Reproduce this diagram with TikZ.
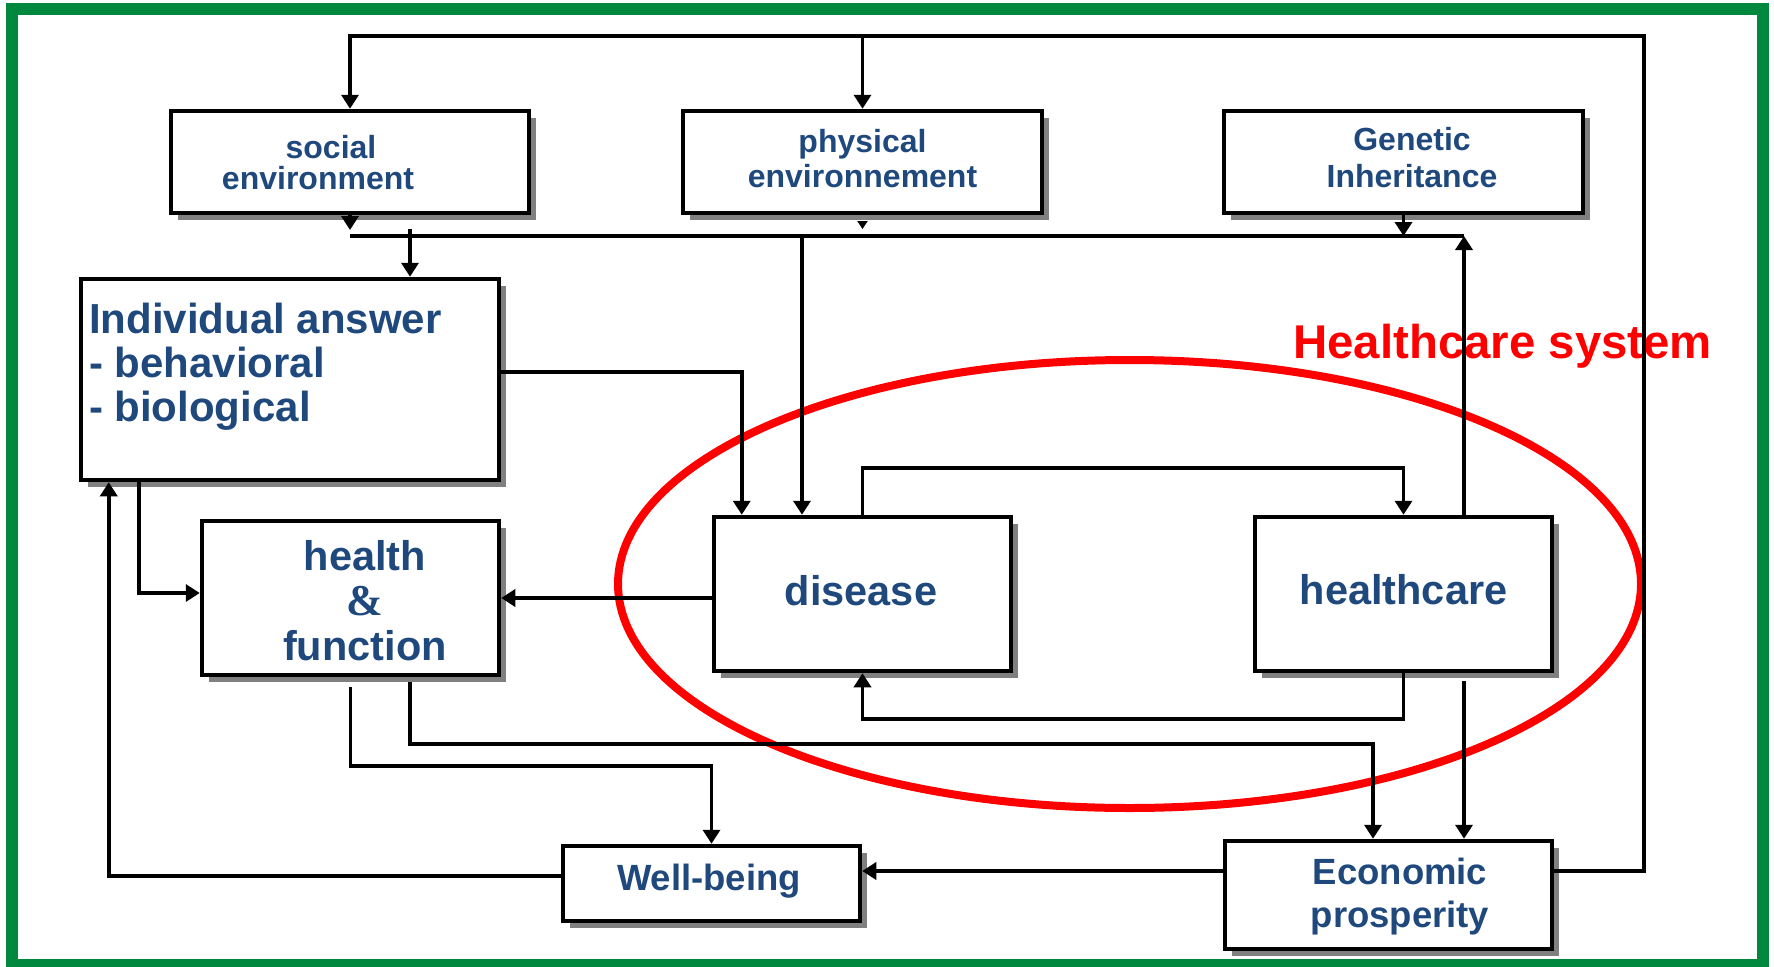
\documentclass[tikz,border=0pt]{standalone}
\usepackage{fontspec}
\setmainfont{Liberation Sans}
\newfontfamily\serifbf{Liberation Serif}[BoldFont={Liberation Serif Bold}]
\usetikzlibrary{arrows.meta,calc,shadows}
\definecolor{frameg}{RGB}{0,136,62}
\definecolor{txtblue}{RGB}{31,73,125}
\definecolor{shadowg}{RGB}{128,128,128}
% #1 size, #2 dx, #3 raise of first baseline, #4 baselineskip, #5 lines
\newcommand\ctext[5]{\smash{\makebox[0pt][l]{\hspace*{#2pt}\makebox[0pt][c]{\raisebox{#3pt}{\fontsize{#1}{#4}\selectfont\vtop{\baselineskip=#4pt\lineskiplimit=-1000pt\lineskip=0pt\halign{\hfil##\hfil\cr#5\crcr}}}}}}}
\newcommand\ltext[5]{\smash{\makebox[0pt][l]{\hspace*{#2pt}\makebox[0pt][l]{\raisebox{#3pt}{\fontsize{#1}{#4}\selectfont\vtop{\baselineskip=#4pt\lineskiplimit=-1000pt\lineskip=0pt\halign{##\hfil\cr#5\crcr}}}}}}}
\newcommand\amp{\serifbf\bfseries\fontsize{44}{45}\selectfont\&}
\begin{document}
\begin{tikzpicture}[x=1pt,y=-1pt,
  conn/.style={line width=3.6pt, line join=miter, line cap=butt},
  arr/.style={conn,-{Triangle[length=14pt,width=17pt]}},
  arrsm/.style={conn,-{Triangle[length=8pt,width=10pt]}},
  box/.style={draw, line width=4.5pt, fill=white, inner sep=0pt, text=txtblue, font=\bfseries,
     drop shadow={shadow xshift=7pt,shadow yshift=-7pt,fill=shadowg,opacity=1}},
  ]
\useasboundingbox (0,0) rectangle (1774,966);
\draw[frameg, line width=12pt] (12,9) rectangle (1763,965);

% red ellipse and label
\draw[red, line width=8pt] (1129.5,584) ellipse [x radius=511.5pt, y radius=224pt];
\node[font=\fontsize{47.4}{48}\selectfont\bfseries, text=red, anchor=base west, inner sep=0pt] (hcs) at (1293,358) {Healthcare system};

% boxes
\node[box, minimum width=358pt, minimum height=102pt] (social) at (350,162)
  {\ctext{32}{-32}{4}{31}{\hspace*{26pt}social\cr environment}};
\node[box, minimum width=359pt, minimum height=102pt] (physical) at (862.5,162)
  {\ctext{32}{0}{10}{35}{physical\cr environnement}};
\node[box, minimum width=359pt, minimum height=102pt] (genetic) at (1403.5,162)
  {\ctext{32}{8.5}{12}{37}{Genetic\cr Inheritance}};
\node[box, minimum width=418pt, minimum height=201pt] (IA) at (290,379.5)
  {\ltext{42}{-201}{46.5}{44}{Individual answer\cr - behavioral\cr - biological}};
\node[box, minimum width=297pt, minimum height=154pt] (hf) at (350.5,598)
  {\ctext{41.5}{14.5}{28}{45}{health\cr\amp\cr function}};
\node[box, minimum width=297pt, minimum height=154pt] (disease) at (862.5,594)
  {\ctext{41.5}{-1.5}{-11}{45}{disease}};
\node[box, minimum width=297pt, minimum height=154pt] (healthcare) at (1403.5,594)
  {\ctext{41.5}{0}{-10}{45}{healthcare}};
\node[box, minimum width=297pt, minimum height=75pt] (wb) at (711.5,883.5)
  {\ctext{36.5}{-2.5}{-6.5}{40}{Well-being}};
\node[box, minimum width=327pt, minimum height=108pt] (econ) at (1388.5,895)
  {\ctext{36.5}{11.5}{11}{43}{Economic\cr prosperity}};

% coordinates
\coordinate (busL) at (350,236);
\coordinate (busR) at (1464,236);
\coordinate (iatop) at (410,229);
\coordinate (dbus) at (802,236);
\coordinate (topR) at (1644,36);

% connectors
\draw[conn] (busL) -- (busR);
\draw[arr, shorten >=6pt] (social.south) -- (social.south |- busL);
\draw[arrsm, shorten >=7pt] ($(physical.south)+(0,6)$) -- (physical.south |- busL);
\draw[arr] (genetic.south) -- (genetic.south |- busL);
\draw[arr] (iatop) -- (iatop |- IA.north);
\draw[arr] (dbus) -- (dbus |- disease.north);
\draw[arr] ($(IA.east)+(0,-7.5)$) -| ($(disease.north west)+(30,0)$);
\draw[arr] ($(healthcare.north)+(60.5,4)$) -- (busR);
\draw[arr] (disease.north) -- ++(0,-47) -| (healthcare.north);
\draw[arr] (healthcare.south) -- ++(0,46) -| (disease.south);
\draw[arr] (disease.west |- hf.east) -- (hf.east);
\draw[arr] ($(IA.south west)+(60.5,0)$) |- ($(hf.west)+(0,-5)$);
\draw[arr] ($(wb.west)+(0,-7.5)$) -| ($(IA.south west)+(30,0)$);
\draw[arr] ($(hf.south)+(0,10)$) -- ++(0,79) -| (wb.north);
\draw[arr] ($(hf.south)+(59.5,5)$) -- ++(0,62) -| ($(econ.north)+(-15.5,0)$);
\draw[arr] ($(healthcare.south)+(60.5,8)$) -- ($(econ.north)+(75.5,0)$);
\draw[arr] ($(econ.west)+(0,-24)$) -- ($(wb.east)+(0,-12.5)$);
\draw[arr] ($(econ.east)+(0,-24)$) -| (topR) -| (social.north);
\draw[arr] (physical.north |- topR) -- (physical.north);
\end{tikzpicture}
\end{document}
